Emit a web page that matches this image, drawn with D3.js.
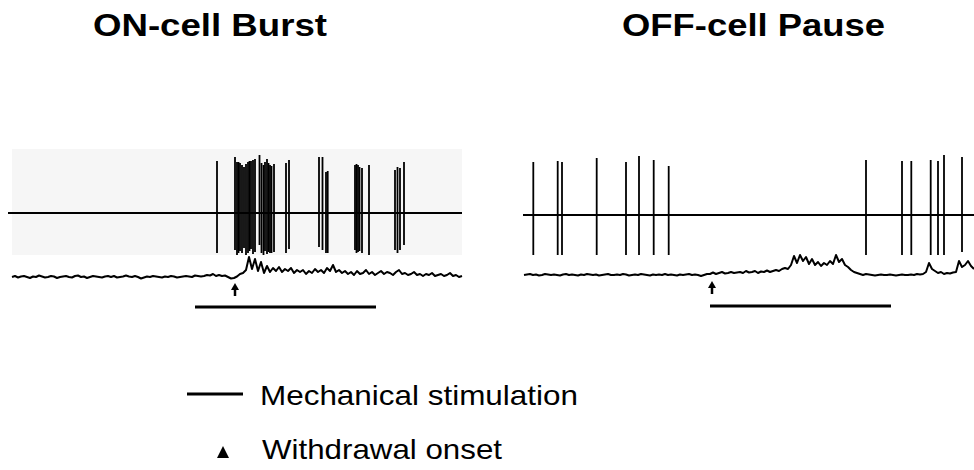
<!DOCTYPE html>
<html>
<head>
<meta charset="utf-8">
<script src="https://cdn.jsdelivr.net/npm/d3@7"></script>
<style>
  html, body { margin: 0; padding: 0; background: #fff; }
  svg { display: block; }
  text { font-family: "Liberation Sans", Arial, sans-serif; fill: #000; }
</style>
</head>
<body>
<svg id="chart" width="974" height="470"></svg>
<script>
// ---- Recordings (time in s, amplitudes in µV) ----

// ON-cell unit: spike times and peak/trough amplitudes
const onSpikeTimes = [20.5, 22.3, 22.5, 22.65, 22.8, 23.0, 23.2, 23.4, 23.6, 23.75, 23.9, 24.1, 24.3,
  24.75, 24.95, 25.15, 25.3, 25.5, 25.65, 25.8, 25.95, 26.2, 27.4, 27.7, 30.7, 31.05, 31.4, 31.57,
  34.3, 34.45, 34.6, 34.75, 35.0, 35.7, 38.3, 38.55, 38.8, 39.2];
const onSpikeTop = [52, 56, 51, 51, 50, 48, 46, 49, 51, 52, 52, 53, 54,
  58, 50, 48, 51, 54, 50, 48, 47, 49, 50, 53, 56, 56, 41, 42,
  48, 49, 48, 46, 45, 48, 43, 46, 45, 51];
const onSpikeBottom = [-40, -37, -42, -40, -38, -40, -35, -42, -40, -38, -36, -41, -39,
  -32, -40, -42, -38, -41, -39, -40, -40, -39, -40, -36, -34, -37, -40, -40,
  -37, -40, -39, -38, -40, -42, -37, -40, -37, -32];

// OFF-cell unit
const offSpikeTimes = [0.93, 3.37, 3.8, 7.27, 10.2, 11.5, 12.97, 14.47, 34.2, 37.8, 38.73, 40.67, 41.4, 42.0, 43.8];
const offSpikeTop = [53, 54, 53, 57, 53, 59, 55, 49, 55, 54, 54, 55, 54, 60, 58];
const offSpikeBottom = [-40, -40, -40, -40, -40, -40, -40, -40, -40, -40, -40, -40, -40, -40, -37];

// EMG (rectified, sampled every 0.3 s from t = 0)
const emgStep = 0.3;
const onEmg = [
  0, 1, -0.5, 0.5, 1, 0, -1, 0.5, 0, 1.5,
  0.5, -0.5, 0, 1, 0.5, -1, 0, 0.5, 1, 0,
  -0.5, 1, 1.5, 0, 0.5, -1, 0, 1, 0.5, 0,
  -0.5, 0.5, 1, 0, 1, -0.5, 0, 0.5, 1.5, 0.5,
  0, 1, 0, -1.5, -0.5, 0.5, 0, 1, 0.5, 0,
  -0.5, 0.5, 0, 1, 0.5, -0.5, 0, 0.5, 1, 0.5,
  0, 1.5, 1, 0.5, 1, 2, 1.5,
  3, 1, 2, 1, 1.5, 0, -1.5, -1,
  0.5, 3, 4,
  7, 20, 8, 18, 6, 15, 4, 11, 5, 9,
  6, 10, 5, 8, 6, 9, 4, 7, 5, 7,
  3, 6, 4, 8, 5, 7, 4, 9, 6, 12,
  5, 7, 4,
  6, 3, 5, 2, 6, 3, 4, 7, 3, 5,
  2, 4, 6, 3, 5, 4, 2, 5, 7, 3,
  4, 2, 3, 5, 2, 3, 1, 3, 2, 4,
  1, 2, 3, 1, 2, 4, 1, 2, 0, 1
];
const offEmg = [
  0, 0.5, 1, 0, 0.5, -0.5, 0, 1, 0.5, 0,
  0.5, 0, -0.5, 0.5, 1, 0, 0.5, 0, -0.5, 0.5,
  0, 1, 0.5, 0, 0.5, -0.5, 0, 0.5, 1, 0,
  0, 0.5, 0, 1, 0.5, -0.5, 0, 0.5, 0, 1,
  0.5, 0, -0.5, 0.5, 0, 0.5, 0, 1, 0, 0.5,
  0, -0.5, 0.5, 0, 0.5, 1, 0, 0.5, 0, -1,
  0, 1,
  1, 2.5, 1, 2, 3, 1.5, 2, 3, 2, 2.5,
  3, 2, 4, 2.5, 3, 4, 2, 3.5, 3, 4.5, 3, 4,
  5, 4, 6, 7, 6,
  10, 19, 12, 20, 14, 18, 11, 16, 10, 13, 9, 12, 10,
  14, 11, 20, 13, 16,
  10, 8, 5, 3, 2,
  1, 0, 1, 0.5, 0, -0.5, 0, 0.5, 0, 0, 0.5, 0, -0.5, 0, 0.5, 0, 0, 0.5, 0, 1, 0.5, 1,
  3, 12, 6, 4, 2, 3, 1, 2, 1.5, 2.5, 3, 14, 8, 10, 14, 9, 6
];

// Stimulus period [start, end] and withdrawal onset (s)
const onStim = [18.3, 36.4];
const offStim = [18.6, 36.7];
const onWithdrawal = 22.3;
const offWithdrawal = 18.8;

const titles = ["ON-cell Burst", "OFF-cell Pause"];
const legendLabels = ["Mechanical stimulation", "Withdrawal onset"];

// ---- Drawing ----
const svg = d3.select("#chart");

const panels = [
  { title: titles[0], titleX: 93, titleW: 234, range: [12, 462], lineStart: 8, base: 213, shade: true,
    times: onSpikeTimes, top: onSpikeTop, bottom: onSpikeBottom, emg: onEmg, emgBase: 277,
    stim: onStim, stimY: 307, withdrawal: onWithdrawal },
  { title: titles[1], titleX: 622, titleW: 263, range: [524, 974], lineStart: 523, base: 215, shade: false,
    times: offSpikeTimes, top: offSpikeTop, bottom: offSpikeBottom, emg: offEmg, emgBase: 275,
    stim: offStim, stimY: 306, withdrawal: offWithdrawal }
];

panels.forEach(p => {
  const g = svg.append("g");
  const x = d3.scaleLinear().domain([0, 45]).range(p.range);
  const y = d3.scaleLinear().domain([-60, 60]).range([p.base + 60, p.base - 60]);
  const yEmg = d3.scaleLinear().domain([0, 30]).range([p.emgBase, p.emgBase - 30]);

  g.append("text")
    .attr("x", p.titleX).attr("y", 36)
    .attr("font-size", 31).attr("font-weight", "bold")
    .attr("textLength", p.titleW).attr("lengthAdjust", "spacingAndGlyphs")
    .text(p.title);

  if (p.shade) {
    g.append("rect")
      .attr("x", x(0)).attr("width", x(45) - x(0))
      .attr("y", y(64)).attr("height", y(-42) - y(64))
      .attr("fill", "#f6f6f6");
  }

  // unit trace baseline
  g.append("line")
    .attr("x1", p.lineStart).attr("x2", x(45))
    .attr("y1", y(0)).attr("y2", y(0))
    .attr("stroke", "#000").attr("stroke-width", 2);

  // spikes
  g.selectAll("line.spike")
    .data(p.times.map((t, i) => ({ t, hi: p.top[i], lo: p.bottom[i] })))
    .join("line")
    .attr("class", "spike")
    .attr("x1", d => x(d.t)).attr("x2", d => x(d.t))
    .attr("y1", d => y(d.hi)).attr("y2", d => y(d.lo))
    .attr("stroke", "#000").attr("stroke-width", 1.8);

  // EMG trace
  const line = d3.line()
    .x((v, i) => x(i * emgStep))
    .y(v => yEmg(v));
  g.append("path")
    .datum(p.emg)
    .attr("d", line)
    .attr("fill", "none")
    .attr("stroke", "#000").attr("stroke-width", 2)
    .attr("stroke-linejoin", "round");

  // withdrawal onset arrow
  const ax = x(p.withdrawal);
  g.append("path")
    .attr("d", `M${ax},${p.emgBase + 6} l-4,7 l8,0 Z`)
    .attr("fill", "#000");
  g.append("line")
    .attr("x1", ax).attr("x2", ax)
    .attr("y1", p.emgBase + 12).attr("y2", p.emgBase + 19)
    .attr("stroke", "#000").attr("stroke-width", 2.5);

  // stimulation bar
  g.append("line")
    .attr("x1", x(p.stim[0])).attr("x2", x(p.stim[1]))
    .attr("y1", p.stimY).attr("y2", p.stimY)
    .attr("stroke", "#000").attr("stroke-width", 3);
});

// ---- Legend ----
const legend = svg.append("g");
legend.append("line")
  .attr("x1", 187).attr("x2", 243).attr("y1", 394).attr("y2", 394)
  .attr("stroke", "#000").attr("stroke-width", 3);
legend.append("text")
  .attr("x", 260).attr("y", 405).attr("font-size", 28)
  .attr("textLength", 318).attr("lengthAdjust", "spacingAndGlyphs")
  .text(legendLabels[0]);
legend.append("path")
  .attr("d", "M223,446 L217,458 L229,458 Z")
  .attr("fill", "#000");
legend.append("text")
  .attr("x", 262).attr("y", 459).attr("font-size", 28)
  .attr("textLength", 240).attr("lengthAdjust", "spacingAndGlyphs")
  .text(legendLabels[1]);
</script>
</body>
</html>
